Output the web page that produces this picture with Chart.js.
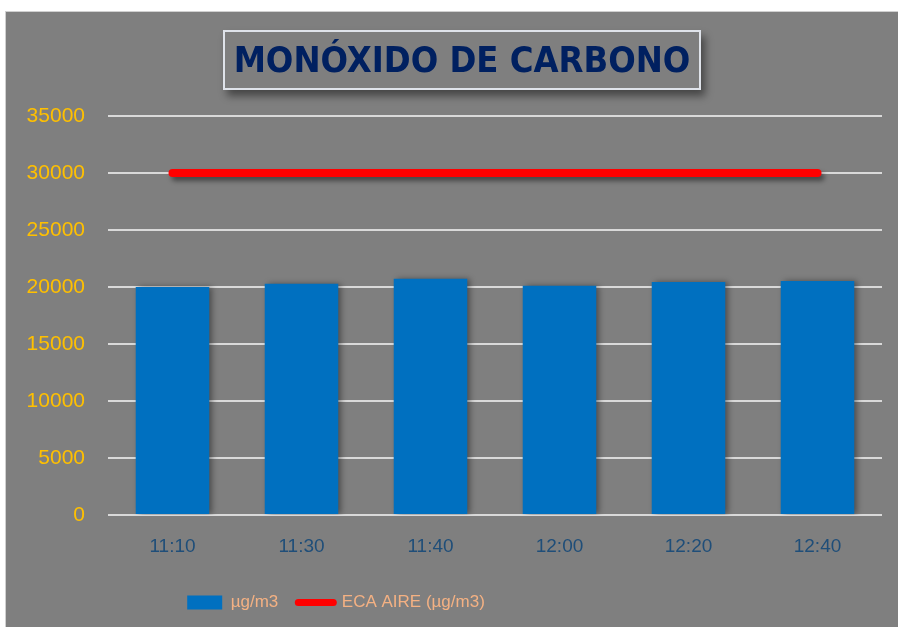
<!DOCTYPE html>
<html>
<head>
<meta charset="utf-8">
<script src="https://cdn.jsdelivr.net/npm/chart.js@4"></script>
<style>
    body { margin: 0; background: #fff; }
    .panel {
        position: absolute; left: 5px; top: 11px; width: 893px; height: 616px;
        background: #7f7f7f; border-left: 1px solid #d0d0d0; border-top: 1px solid #d0d0d0;
    }
    .panel canvas { position: absolute; left: 0; top: 0; }
    .titulo {
        position: absolute; left: 223px; top: 30px; width: 474px; height: 56px;
        border: 2px solid #dfe3ea; background: #7f7f7f;
        box-shadow: 4px 6px 8px rgba(0, 0, 0, 0.45);
        color: #002060; font: bold 36px 'DejaVu Sans Condensed', 'DejaVu Sans', sans-serif;
        text-align: center; line-height: 56px; white-space: nowrap;
    }
</style>
</head>
<body>
<div class="panel"><canvas id="graficoCO" width="892" height="615"></canvas></div>
<div class="titulo">MONÓXIDO DE CARBONO</div>
<script>
// datos
var horas = ['11:10', '11:30', '11:40', '12:00', '12:20', '12:40'];
var monoxido = [20000, 20290, 20730, 20110, 20440, 20530];
var ecaAire = [30000, 30000, 30000, 30000, 30000, 30000];
var ticksY = [0, 5000, 10000, 15000, 20000, 25000, 30000, 35000];

// sombra para barras y linea
var sombra = {
    id: 'sombra',
    beforeDatasetDraw: function(chart, args) {
        var ctx = chart.ctx;
        ctx.save();
        if (args.meta.type === 'bar') {
            ctx.shadowColor = 'rgba(0, 0, 0, 0.4)';
            ctx.shadowBlur = 6;
            ctx.shadowOffsetX = 3;
            ctx.shadowOffsetY = 0;
        } else {
            ctx.shadowColor = 'rgba(0, 0, 0, 0.45)';
            ctx.shadowBlur = 5;
            ctx.shadowOffsetX = 3;
            ctx.shadowOffsetY = 4;
        }
    },
    afterDatasetDraw: function(chart) {
        chart.ctx.restore();
    }
};

// la leyenda del original no esta centrada, va corrida a la izquierda
var leyendaIzq = {
    id: 'leyendaIzq',
    afterLayout: function(chart) {
        chart.legend.left -= 108;
        chart.legend.right -= 108;
    }
};

var fuente = "'Liberation Sans', sans-serif";

var ctx = document.getElementById('graficoCO').getContext('2d');
var grafico = new Chart(ctx, {
    type: 'bar',
    data: {
        labels: horas,
        datasets: [
            {
                label: 'µg/m3',
                data: monoxido,
                backgroundColor: '#0070c0',
                categoryPercentage: 0.57,
                barPercentage: 1
            },
            {
                type: 'line',
                label: 'ECA AIRE (µg/m3)',
                data: ecaAire,
                borderColor: '#ff0000',
                backgroundColor: '#ff0000',
                borderWidth: 8,
                borderCapStyle: 'round',
                pointRadius: 0,
                fill: false
            }
        ]
    },
    options: {
        responsive: false,
        animation: false,
        layout: { padding: { top: 104, right: 16, bottom: 6, left: 0 } },
        plugins: {
            tooltip: { enabled: false },
            legend: {
                position: 'bottom',
                labels: {
                    color: '#f4b183',
                    font: { family: fuente, size: 17 },
                    usePointStyle: true,
                    pointStyleWidth: 35,
                    boxHeight: 14,
                    padding: 20,
                    generateLabels: function(chart) {
                        var items = Chart.defaults.plugins.legend.labels.generateLabels(chart);
                        items[0].pointStyle = 'rect';
                        items[0].lineWidth = 0;
                        items[1].pointStyle = 'line';
                        items[1].lineWidth = 7;
                        items[1].lineCap = 'round';
                        items[1].strokeStyle = '#ff0000';
                        return items;
                    }
                }
            }
        },
        scales: {
            x: {
                grid: { display: false },
                border: { display: false },
                ticks: {
                    color: '#1f4e79',
                    padding: 12,
                    font: { family: fuente, size: 19 }
                },
                afterFit: function(scale) { scale.height = 59; }
            },
            y: {
                min: 0,
                max: 35000,
                afterBuildTicks: function(scale) {
                    scale.ticks = ticksY.map(function(v) { return { value: v }; });
                },
                grid: { color: '#d9d9d9', lineWidth: 2, drawTicks: false },
                border: { display: false },
                ticks: {
                    color: '#ffc000',
                    padding: 23,
                    font: { family: fuente, size: 21 },
                    callback: function(v) { return String(v); }
                },
                afterFit: function(scale) { scale.width = 102; }
            }
        }
    },
    plugins: [sombra, leyendaIzq]
});
</script>
</body>
</html>
